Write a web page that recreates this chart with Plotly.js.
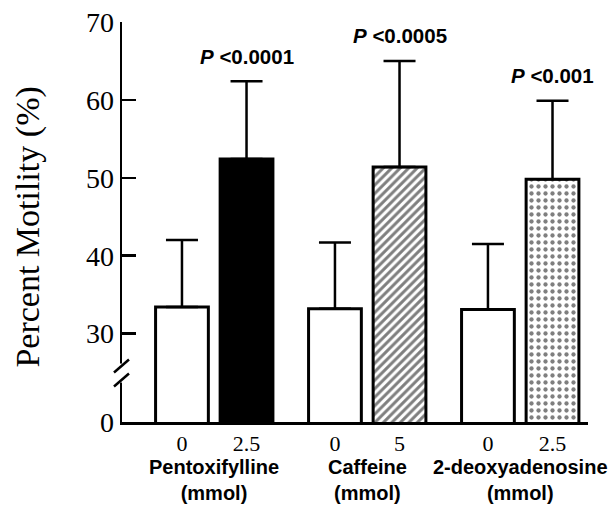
<!DOCTYPE html>
<html>
<head>
<meta charset="utf-8">
<script src="https://cdn.plot.ly/plotly-3.0.1.min.js"></script>
<style>html,body{margin:0;padding:0;background:#fff;}#chart{width:615px;height:508px;}</style>
</head>
<body>
<div id="chart"></div>
<script>
// ---- data ----
var groups = ["Pentoxifylline", "Caffeine", "2-deoxyadenosine"];
var groupUnits = ["(mmol)", "(mmol)", "(mmol)"];
var doseLabels = ["0", "2.5", "0", "5", "0", "2.5"];
var motility = [33.4, 52.4, 33.2, 51.4, 33.1, 49.8];
var sdUpper = [8.6, 10.0, 8.5, 13.6, 8.4, 10.1];
var pValues = ["", "&lt;0.0001", "", "&lt;0.0005", "", "&lt;0.001"];
var yTickVals = [30, 40, 50, 60, 70];
var yTickText = ["30", "40", "50", "60", "70"];
var patterns = ["", "", "", "/", "", "."];
var fills = ["white", "black", "white", "white", "white", "white"];

// ---- layout helpers ----
var yBottom = 18.65;            // broken axis: "0" drawn at bottom of range
var yRange = [yBottom, 70];
var within = 0.211;
var xs = doseLabels.map(function (d, i) {
  var g = Math.floor(i / 2), k = i % 2;
  return g + (k === 0 ? -within : within);
});

var serif = "Liberation Serif, Times New Roman, serif";
var sans = "Liberation Sans, Arial, sans-serif";

var traces = motility.map(function (v, i) {
  var marker = {color: fills[i], line: {color: "black", width: 3}};
  if (patterns[i] === "/") {
    marker.pattern = {shape: "/", fgcolor: "black", bgcolor: "white", size: 6, solidity: 0.5, fillmode: "overlay"};
  } else if (patterns[i] === ".") {
    marker.pattern = {shape: ".", fgcolor: "black", bgcolor: "white", size: 7, solidity: 0.3, fillmode: "overlay"};
  }
  return {
    type: "bar",
    x: [xs[i]],
    y: [v],
    width: 0.345,
    marker: marker,
    error_y: {
      type: "data", symmetric: false,
      array: [sdUpper[i]], arrayminus: [0],
      color: "black", thickness: 2.5, width: 16
    },
    hoverinfo: "skip"
  };
});

var annotations = [];
pValues.forEach(function (p, i) {
  if (!p) return;
  annotations.push({
    x: xs[i], y: motility[i] + sdUpper[i], xref: "x", yref: "y",
    text: "<b><i>P</i> " + p + "</b>", showarrow: false,
    xanchor: "center", yanchor: "middle", yshift: 25,
    font: {family: sans, size: 20.5, color: "black"}
  });
});
groups.forEach(function (g, gi) {
  annotations.push({
    x: gi, xref: "x", y: -0.08, yref: "paper", xanchor: "center", yanchor: "top",
    text: "<b>" + g + "<br>" + groupUnits[gi] + "</b>", showarrow: false,
    font: {family: sans, size: 20, color: "black"}
  });
});
annotations.push({
  x: -0.2017, xref: "paper", y: 0.486, yref: "paper",
  xanchor: "center", yanchor: "middle",
  text: "Percent Motility (%)", textangle: -90, showarrow: false,
  font: {family: serif, size: 34, color: "black"}
});

var shapes = [
  {type: "rect", xref: "paper", yref: "y", xsizemode: "pixel", ysizemode: "pixel",
   xanchor: 0, yanchor: 25, x0: -3, x1: 3, y0: -10, y1: 9,
   fillcolor: "white", line: {width: 0}, layer: "above"},
  {type: "line", xref: "paper", yref: "y", xsizemode: "pixel", ysizemode: "pixel",
   xanchor: 0, yanchor: 25, x0: -8, x1: 7, y0: 0, y1: 13,
   line: {color: "black", width: 2.5}, layer: "above"},
  {type: "line", xref: "paper", yref: "y", xsizemode: "pixel", ysizemode: "pixel",
   xanchor: 0, yanchor: 25, x0: -8, x1: 7, y0: -14, y1: -1,
   line: {color: "black", width: 2.5}, layer: "above"}
];

var layout = {
  width: 615, height: 508,
  margin: {l: 122, r: 27, t: 22, b: 86},
  paper_bgcolor: "white", plot_bgcolor: "white",
  showlegend: false,
  barmode: "overlay",
  xaxis: {
    range: [-0.603, 2.443], tickvals: xs, ticktext: doseLabels,
    showline: true, linecolor: "black", linewidth: 3,
    ticks: "", showgrid: false, zeroline: false, ticklabelstandoff: 0,
    tickfont: {family: serif, size: 22, color: "black"}
  },
  yaxis: {
    range: yRange,
    tickvals: [yBottom].concat(yTickVals), ticktext: ["0"].concat(yTickText),
    showline: true, linecolor: "black", linewidth: 2.5,
    ticks: "inside", ticklen: 14, tickwidth: 2.5, tickcolor: "black",
    showgrid: false, zeroline: false,
    tickfont: {family: serif, size: 28, color: "black"}
  },
  annotations: annotations,
  shapes: shapes
};

Plotly.newPlot("chart", traces, layout, {displayModeBar: false, staticPlot: true});
</script>
</body>
</html>
